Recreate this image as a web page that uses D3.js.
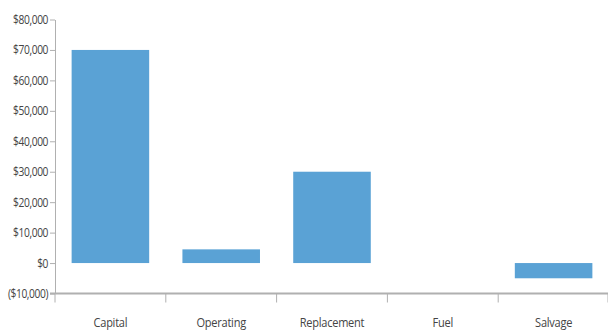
<!DOCTYPE html>
<html><head><meta charset="utf-8">
<script src="https://cdn.jsdelivr.net/npm/d3@7"></script>
<style>body{margin:0;background:#fff}svg{display:block}</style>
</head><body><svg id="c" width="608" height="332"></svg>
<script>
const categories = ["Capital","Operating","Replacement","Fuel","Salvage"];
const values = [70000, 4500, 30000, 0, -5000];
const yTicks = [-10000,0,10000,20000,30000,40000,50000,60000,70000,80000];

(function(){
const svg = d3.select("#c");
const mLeft = 55, mRight = 609, mTop = 19.5, mBottom = 293.5;
const x = d3.scaleBand().domain(categories).range([mLeft, mRight]).paddingInner(0.3).paddingOuter(0.15);
const y = d3.scaleLinear().domain([-10000, 80000]).range([mBottom, mTop]);
const fmt = v => v < 0 ? "($" + d3.format(",")(-v) + ")" : "$" + d3.format(",")(v);

svg.selectAll("rect.bar").data(values).join("rect")
  .attr("class","bar")
  .attr("x",(d,i)=>x(categories[i]))
  .attr("width",x.bandwidth())
  .attr("y",d=>y(Math.max(0,d)))
  .attr("height",d=>Math.abs(y(d)-y(0)))
  .attr("fill","#5aa2d5");

const ya = svg.append("g").attr("transform",`translate(${mLeft},0)`)
  .call(d3.axisLeft(y).tickValues(yTicks).tickFormat(fmt).tickSize(5).tickSizeOuter(0));
ya.select(".domain").attr("stroke","#b0b0b0");
ya.selectAll(".tick line").attr("stroke","#b0b0b0");
ya.selectAll("text").attr("fill","#444").style("font-family","'Open Sans', sans-serif")
  .style("font-size","12.5px").attr("x",-8.5).attr("transform","scale(0.82,1)").attr("letter-spacing","-0.5");

const xa = svg.append("g").attr("transform",`translate(0,${y(-10000)})`)
  .call(d3.axisBottom(x).tickSize(0).tickSizeOuter(0));
xa.select(".domain").remove();
xa.selectAll("text").attr("fill","#444").style("font-family","'Open Sans', sans-serif")
  .style("font-size","13px").attr("y",24).attr("dy","0.71em").attr("transform","scale(0.85,1)").attr("letter-spacing","-0.3");
svg.append("line").attr("x1",mLeft-5).attr("x2",mRight).attr("y1",y(-10000)).attr("y2",y(-10000))
  .attr("stroke","#b0b0b0").attr("stroke-width",2);
const bounds = categories.map(c=>x(c)-x.step()*x.paddingInner()/2).concat([mRight-1]);
svg.selectAll("line.xt").data(bounds).join("line").attr("class","xt")
  .attr("x1",d=>d).attr("x2",d=>d).attr("y1",y(-10000)).attr("y2",y(-10000)+9)
  .attr("stroke","#b0b0b0");
})();
</script></body></html>
